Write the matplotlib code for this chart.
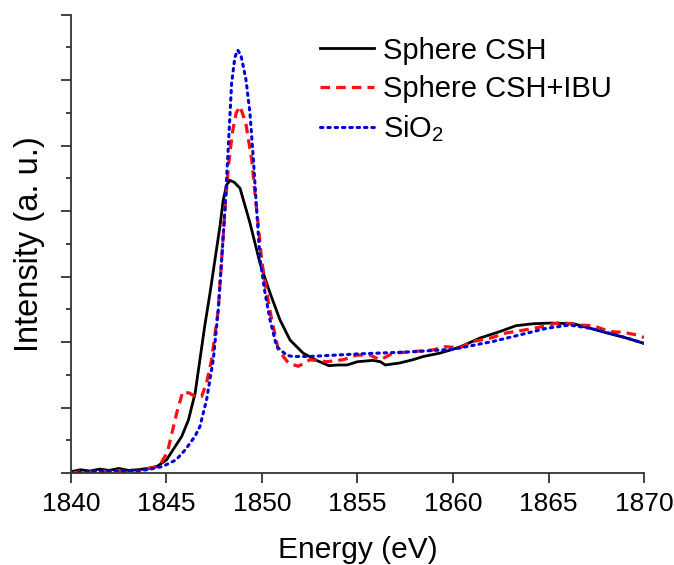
import matplotlib
matplotlib.use("Agg")
import matplotlib.pyplot as plt
from matplotlib.ticker import MultipleLocator

plt.rcParams["font.family"] = ["Liberation Sans", "DejaVu Sans"]
plt.rcParams["mathtext.fontset"] = "custom"
plt.rcParams["mathtext.rm"] = "Liberation Sans"
plt.rcParams["mathtext.it"] = "Liberation Sans"

# Sphere CSH (solid black)
csh_x = [1840, 1840.5, 1841, 1841.5, 1842, 1842.5, 1843, 1843.5, 1844, 1844.5,
         1845, 1845.4, 1845.8, 1846.15, 1846.5, 1846.75, 1847.0, 1847.28, 1847.54,
         1847.8, 1847.97, 1848.15, 1848.32, 1848.55, 1848.85, 1849.37, 1849.9,
         1850.42, 1850.94, 1851.47, 1852.16, 1852.86, 1853.5, 1854, 1854.45, 1855,
         1855.8, 1856.2, 1856.45, 1857.2, 1857.9, 1858.45, 1859.3, 1860, 1860.4,
         1861.4, 1862.45, 1863.3, 1864.2, 1865.1, 1866.3, 1867.2, 1868.05, 1869.1,
         1870]
csh_y = [0.02, 0.05, 0.03, 0.06, 0.04, 0.07, 0.04, 0.05, 0.07, 0.10,
         0.20, 0.38, 0.56, 0.81, 1.22, 1.73, 2.24, 2.75, 3.26,
         3.77, 4.17, 4.40, 4.47, 4.44, 4.35, 3.82, 3.20,
         2.75, 2.34, 2.03, 1.83, 1.72, 1.64, 1.65, 1.65, 1.70,
         1.72, 1.70, 1.65, 1.68, 1.73, 1.78, 1.83, 1.89, 1.93,
         2.06, 2.16, 2.25, 2.28, 2.29, 2.28, 2.21, 2.14, 2.06,
         1.98]

# Sphere CSH+IBU (dashed red)
ibu_x = [1840, 1840.5, 1841, 1841.5, 1842, 1842.5, 1843, 1843.3, 1843.6, 1844.1,
         1844.5, 1844.75, 1845.05, 1845.53, 1845.85, 1846.2, 1846.5, 1846.84,
         1847.1, 1847.36, 1847.71, 1847.89, 1848.06, 1848.25, 1848.45, 1848.65,
         1848.85, 1849.15, 1849.46, 1849.63, 1849.81, 1849.98, 1850.25, 1850.51,
         1850.86, 1851.38, 1851.9, 1852.51, 1853.4, 1854.25, 1854.95, 1855.65,
         1856.2, 1856.85, 1857.75, 1858.95, 1859.6, 1860.35, 1861.05, 1861.95,
         1862.8, 1863.85, 1864.75, 1865.6, 1866.65, 1867.35, 1868.2, 1868.9,
         1869.6, 1870]
ibu_y = [0.0, 0.02, 0.01, 0.03, 0.02, 0.04, 0.0, -0.02, 0.04, 0.07,
         0.10, 0.17, 0.32, 0.91, 1.24, 1.22, 1.17, 1.17,
         1.38, 1.73, 2.49, 3.26, 4.02, 4.70, 5.20, 5.50,
         5.60, 5.35, 4.79, 4.28, 3.77, 3.26, 2.75, 2.34,
         1.88, 1.68, 1.63, 1.73, 1.70, 1.73, 1.80, 1.80,
         1.73, 1.83, 1.85, 1.88, 1.93, 1.91, 2.01, 2.06,
         2.14, 2.19, 2.24, 2.30, 2.26, 2.25, 2.16, 2.15,
         2.11, 2.07]

# SiO2 (dotted blue)
sio2_x = [1840, 1841, 1842, 1843, 1844, 1844.8, 1845.5, 1846.0, 1846.49, 1846.75,
          1847.1, 1847.45, 1847.71, 1847.89, 1848.06, 1848.24, 1848.41, 1848.58,
          1848.73, 1848.9, 1849.16, 1849.37, 1849.55, 1849.72, 1849.9, 1850.16,
          1850.42, 1850.77, 1851.29, 1851.6, 1852.5, 1855.1, 1857.75, 1860, 1860.7,
          1862.1, 1863.5, 1864.9, 1866.1, 1867.2, 1868.55, 1869.9, 1870]
sio2_y = [0.0, 0.02, 0.03, 0.03, 0.05, 0.10, 0.20, 0.36, 0.56, 0.71,
          1.12, 1.73, 2.49, 3.26, 4.02, 5.00, 5.95, 6.35,
          6.46, 6.38, 6.01, 5.50, 4.79, 4.02, 3.26, 2.75,
          2.34, 1.93, 1.80, 1.78, 1.78, 1.82, 1.85, 1.89, 1.93,
          2.01, 2.11, 2.21, 2.26, 2.21, 2.11, 1.99, 1.98]

fig = plt.figure(figsize=(6.74, 5.65), dpi=100)
ax = fig.add_axes([0.1053, 0.1628, 0.8502, 0.8112])

ax.plot(csh_x, csh_y, color="black", lw=2.0, label="Sphere CSH")
ax.plot(ibu_x, ibu_y, color="#ff1010", lw=2.3, dashes=(3.0, 1.9), label="Sphere CSH+IBU")
ax.plot(sio2_x, sio2_y, color="#0000dd", lw=2.2, linestyle=(0, (0.8, 1.6)),
        dash_capstyle="round", label="SiO$_\\mathregular{2}$")

ax.set_xlim(1840, 1870)
ax.set_ylim(0, 7)
ax.xaxis.set_major_locator(MultipleLocator(5))
ax.yaxis.set_major_locator(MultipleLocator(1))
ax.yaxis.set_minor_locator(MultipleLocator(0.5))
ax.set_yticklabels([])

for s in ["top", "right"]:
    ax.spines[s].set_visible(False)
for s in ["left", "bottom"]:
    ax.spines[s].set_color("#333333")
    ax.spines[s].set_linewidth(1.3)

ax.tick_params(axis="both", which="major", direction="out", length=7, width=1.3,
               color="#333333", labelsize=19, pad=7)
ax.tick_params(axis="y", which="minor", direction="out", length=3.6, width=1.3, color="#333333")

ax.set_xlabel("Energy (eV)", fontsize=21.5, labelpad=14)
ax.set_ylabel("Intensity (a. u.)", fontsize=23.5, labelpad=5)

ax.legend(loc="upper left", bbox_to_anchor=(0.435, 0.952), frameon=False, fontsize=21,
          handlelength=1.85, handletextpad=0.3, labelspacing=0.35, borderaxespad=0,
          borderpad=0)

plt.savefig("out.png", dpi=100)
